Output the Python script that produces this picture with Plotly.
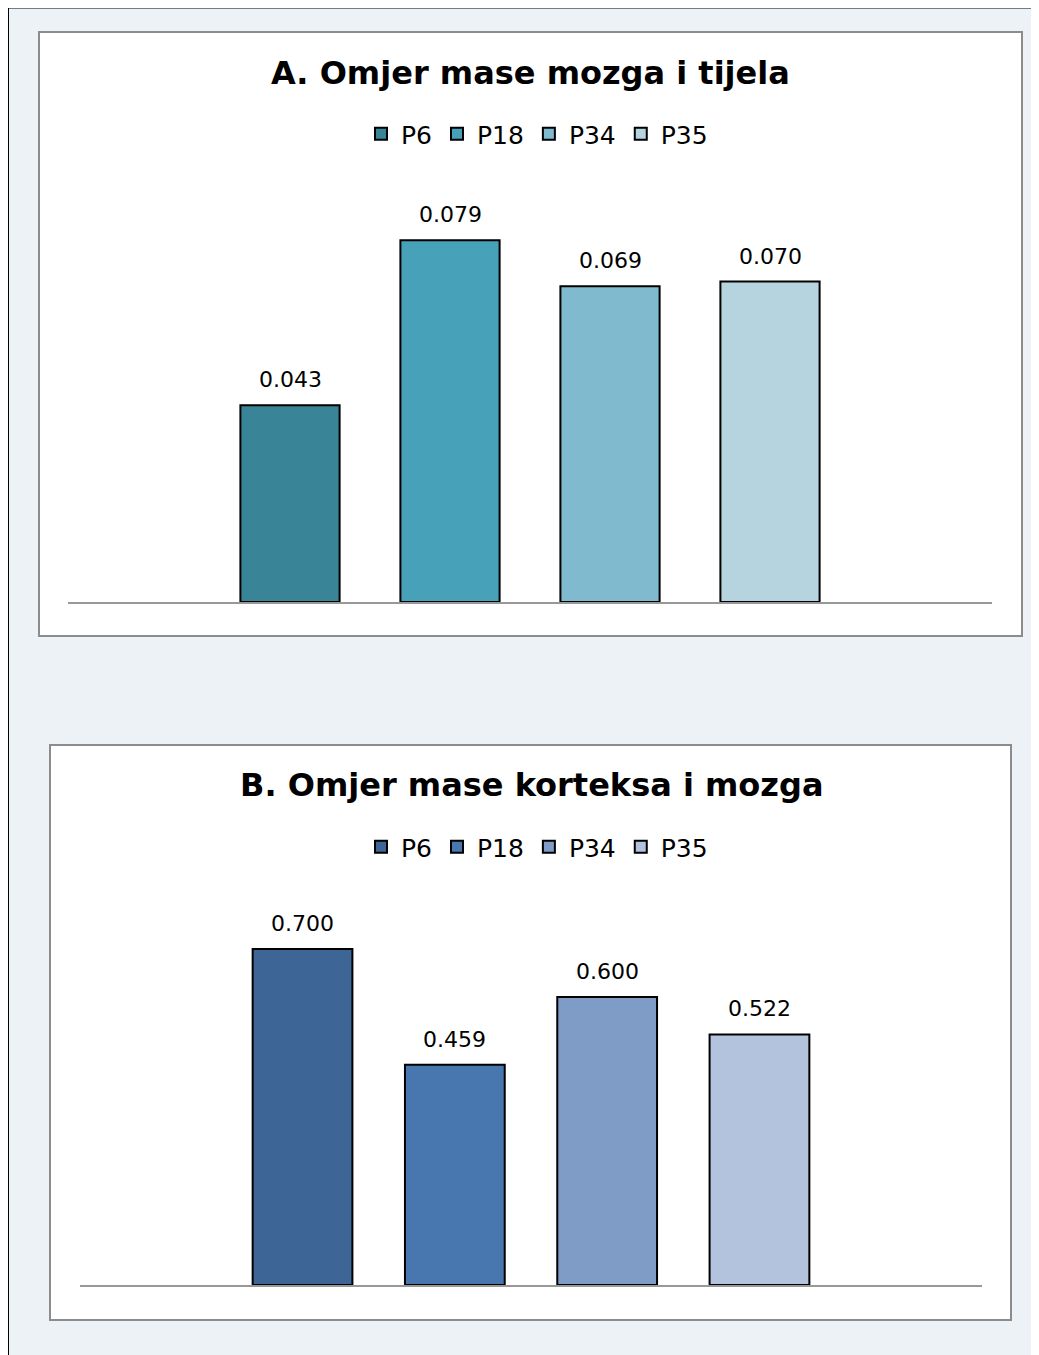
import plotly.graph_objects as go

# the page puts the figure 8px in from the top-left corner
OFFSET = 8
W, H = 1039 - OFFSET, 1355 - OFFSET

categories = ["P6", "P18", "P34", "P35"]
brain_body_ratio = [0.043, 0.079, 0.069, 0.070]
cortex_brain_ratio = [0.700, 0.459, 0.600, 0.522]

title_a = "A. Omjer mase mozga i tijela"
title_b = "B. Omjer mase korteksa i mozga"

colors_a = ["#3A8497", "#47A1B8", "#7FBACE", "#B5D4DF"]
colors_b = ["#3D6595", "#4876AE", "#7F9CC6", "#B4C3DD"]

FONT = "DejaVu Sans"


def fx(x):
    """page pixel -> paper fraction (horizontal)"""
    return (x - OFFSET) / W


def fy(y):
    """page pixel -> paper fraction (vertical)"""
    return 1 - (y - OFFSET) / H


fig = go.Figure()

# panel A bars
for cat, val, col in zip(categories, brain_body_ratio, colors_a):
    fig.add_trace(
        go.Bar(
            x=[cat], y=[val], name=cat, width=0.62,
            marker=dict(color=col, line=dict(color="black", width=2)),
            xaxis="x", yaxis="y", legend="legend",
        )
    )

# panel B bars
for cat, val, col in zip(categories, cortex_brain_ratio, colors_b):
    fig.add_trace(
        go.Bar(
            x=[cat], y=[val], name=cat, width=0.655,
            marker=dict(color=col, line=dict(color="black", width=2)),
            xaxis="x2", yaxis="y2", legend="legend2",
        )
    )

annotations = []
for cat, val in zip(categories, brain_body_ratio):
    annotations.append(dict(
        x=cat, y=val, xref="x", yref="y", text=f"{val:.3f}",
        showarrow=False, yanchor="bottom", yshift=11,
        font=dict(family=FONT, size=22, color="black"),
    ))
for cat, val in zip(categories, cortex_brain_ratio):
    annotations.append(dict(
        x=cat, y=val, xref="x2", yref="y2", text=f"{val:.3f}",
        showarrow=False, yanchor="bottom", yshift=11,
        font=dict(family=FONT, size=22, color="black"),
    ))

annotations.append(dict(
    x=fx(530), y=fy(73), xref="paper", yref="paper", text=f"<b>{title_a}</b>",
    showarrow=False, xanchor="center", yanchor="middle",
    font=dict(family=FONT, size=32, color="black"),
))
annotations.append(dict(
    x=fx(531), y=fy(785), xref="paper", yref="paper", text=f"<b>{title_b}</b>",
    showarrow=False, xanchor="center", yanchor="middle",
    font=dict(family=FONT, size=32, color="black"),
))

panel_line = dict(color="#8C8C8C", width=2)
shapes = [
    # outer frame
    dict(type="line", xref="paper", yref="paper", x0=0, x1=1, y0=1, y1=1,
         line=dict(color="#7A7A7A", width=2)),
    dict(type="line", xref="paper", yref="paper", x0=0, x1=0, y0=0, y1=1,
         line=dict(color="black", width=2)),
    # panels
    dict(type="rect", xref="paper", yref="paper", layer="below",
         x0=fx(39), x1=fx(1022), y0=fy(636), y1=fy(32),
         fillcolor="white", line=panel_line),
    dict(type="rect", xref="paper", yref="paper", layer="below",
         x0=fx(50), x1=fx(1011), y0=fy(1320), y1=fy(745),
         fillcolor="white", line=panel_line),
]

axis_common = dict(
    showline=True, linecolor="#989898", linewidth=2, showticklabels=False,
    ticks="", showgrid=False, zeroline=False, fixedrange=True,
)
yaxis_common = dict(visible=False, showgrid=False, zeroline=False)

fig.update_layout(
    width=W, height=H,
    margin=dict(l=0, r=0, t=0, b=0),
    paper_bgcolor="#EDF2F7",
    plot_bgcolor="rgba(0,0,0,0)",
    barmode="overlay",
    font=dict(family=FONT, color="black"),
    xaxis=dict(domain=[fx(68), fx(992)], range=[-1.3875, 4.3875], anchor="y",
               categoryorder="array", categoryarray=categories, **axis_common),
    yaxis=dict(domain=[fy(602), fy(190)], range=[0, 0.09], anchor="x", **yaxis_common),
    xaxis2=dict(domain=[fx(80), fx(982)], range=[-1.461, 4.461], anchor="y2",
                categoryorder="array", categoryarray=categories, **axis_common),
    yaxis2=dict(domain=[fy(1285), fy(901)], range=[0, 0.8], anchor="x2", **yaxis_common),
    legend=dict(orientation="h", x=fx(537), xanchor="center", y=fy(134), yanchor="middle",
                bgcolor="rgba(0,0,0,0)", font=dict(family=FONT, size=25)),
    legend2=dict(orientation="h", x=fx(537), xanchor="center", y=fy(847), yanchor="middle",
                 bgcolor="rgba(0,0,0,0)", font=dict(family=FONT, size=25)),
    annotations=annotations,
    shapes=shapes,
    showlegend=True,
)

fig.write_html("out.html")
